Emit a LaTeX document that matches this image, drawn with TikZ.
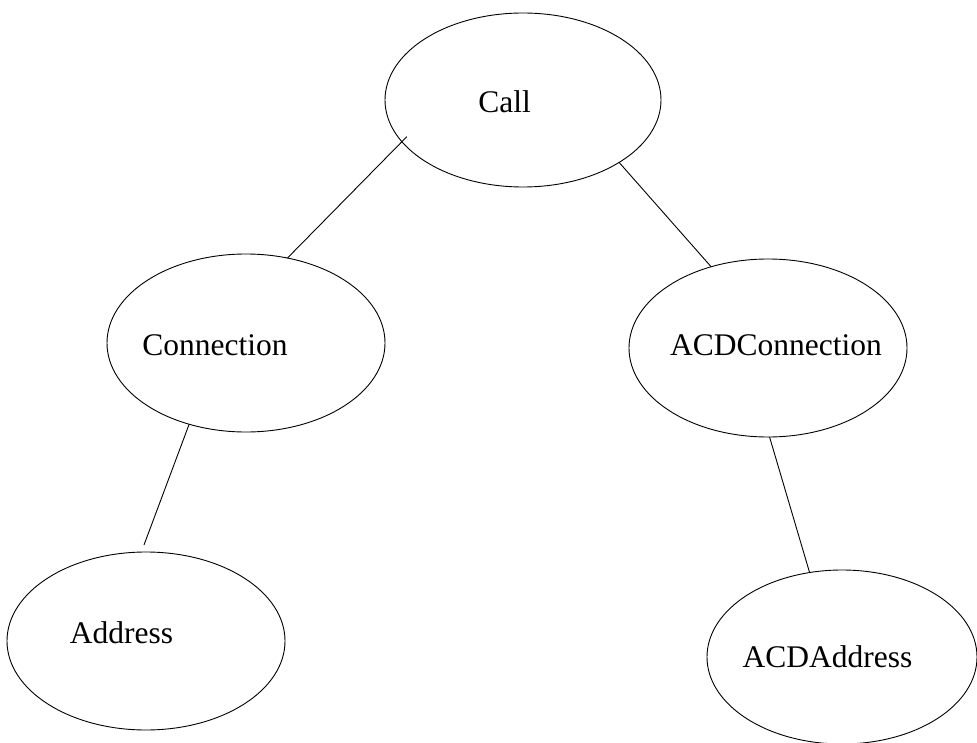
\documentclass[tikz,border=0pt]{standalone}
\usepackage{fontspec}
\setmainfont{Liberation Serif}
\usetikzlibrary{shapes.geometric}
\begin{document}
\begin{tikzpicture}[x=1pt,y=-1pt,
  classbox/.style={draw=black, line width=0.9pt, ellipse, inner sep=0pt, outer sep=0pt},
  classname/.style={anchor=base, inner sep=0pt, font=\fontsize{31.5}{36}\selectfont},
  link/.style={draw=black, line width=0.9pt}]
\useasboundingbox (0,0) rectangle (977,743);
\begin{scope}
\clip (0,0) rectangle (977,743);
% class ellipses
\node[classbox, minimum width=276pt, minimum height=174pt] (call) at (523,100) {};
\node[classbox, minimum width=278pt, minimum height=178pt] (conn) at (246,343) {};
\node[classbox, minimum width=278pt, minimum height=178pt] (acdconn) at (768,348) {};
\node[classbox, minimum width=278pt, minimum height=178pt] (addr) at (146,641) {};
\node[classbox, minimum width=270pt, minimum height=174pt] (acdaddr) at (842,657) {};
\end{scope}
% class names
\node[classname] (callname) at (504.5,113) {Call};
\node[classname] (connname) at (215,355) {Connection};
\node[classname] (acdconnname) at (776,355) {ACDConnection};
\node[classname] (addrname) at (121.5,643) {Address};
\node[classname] (acdaddrname) at (827.5,667) {ACDAddress};
% links between classes
\draw[link, shorten >=-7pt] (conn.64.2) -- (call.199.1);
\draw[link] (call.327.5) -- (acdconn.125.6);
\draw[link, shorten >=7.5pt] (conn.235.3) -- (addr.93.7);
\draw[link] (acdconn.271.3) -- (acdaddr.111.3);
\end{tikzpicture}
\end{document}
